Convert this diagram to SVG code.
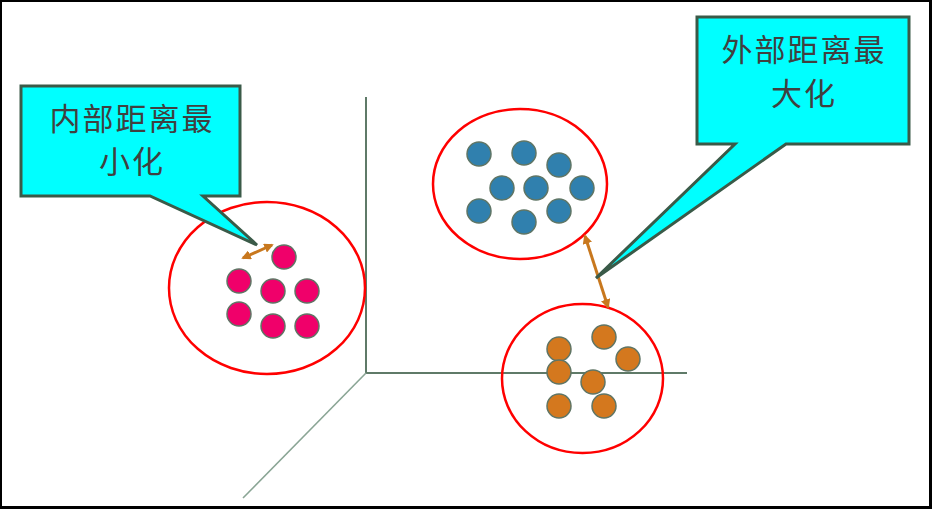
<svg xmlns="http://www.w3.org/2000/svg" width="932" height="509" viewBox="0 0 932 509">
<style>
.callout{fill:#00ffff;stroke:#3a5a48;stroke-width:3;stroke-linejoin:miter}
.lbl{font-family:"Noto Sans CJK SC","Noto Sans",sans-serif;font-size:31px;fill:#404040;text-anchor:middle;letter-spacing:2px}
.ring{fill:none;stroke:#ff0000;stroke-width:2.5}
.axis{stroke:#5f7a68;stroke-width:2;fill:none}
.pink{fill:#f0006a;stroke:#5f7565;stroke-width:1.5}
.blue{fill:#3080ae;stroke:#5f7565;stroke-width:1.5}
.orange{fill:#d4781e;stroke:#5f7565;stroke-width:1.5}
.arrow{stroke:#c8781e;stroke-width:3;fill:none;marker-start:url(#ah);marker-end:url(#ah)}
</style>
<defs>
<marker id="ah" viewBox="0 0 10 10" refX="8" refY="5" markerWidth="3.2" markerHeight="3.2" orient="auto-start-reverse" markerUnits="strokeWidth">
<path d="M0,0 L10,5 L0,10 Z" fill="#c8781e"/>
</marker>
</defs>
<rect x="0" y="0" width="932" height="509" fill="#ffffff"/>
<g id="axes">
<line class="axis" x1="366" y1="97" x2="366" y2="373"/>
<line class="axis" x1="365" y1="373" x2="687" y2="373"/>
<line x1="366" y1="373" x2="243" y2="498" stroke="#8aa595" stroke-width="1.6"/>
</g>
<g id="cluster-left">
<ellipse class="ring" cx="267" cy="288" rx="98" ry="86"/>
<circle class="pink" cx="284" cy="257" r="12"/>
<circle class="pink" cx="239" cy="281" r="12"/>
<circle class="pink" cx="273" cy="291" r="12"/>
<circle class="pink" cx="307" cy="291" r="12"/>
<circle class="pink" cx="239" cy="314" r="12"/>
<circle class="pink" cx="273" cy="326" r="12"/>
<circle class="pink" cx="307" cy="326" r="12"/>
</g>
<g id="cluster-top">
<ellipse class="ring" cx="520" cy="184" rx="87" ry="75"/>
<circle class="blue" cx="479" cy="154" r="12"/>
<circle class="blue" cx="524" cy="153" r="12"/>
<circle class="blue" cx="559" cy="165" r="12"/>
<circle class="blue" cx="502" cy="188" r="12"/>
<circle class="blue" cx="536" cy="188" r="12"/>
<circle class="blue" cx="582" cy="188" r="12"/>
<circle class="blue" cx="479" cy="211" r="12"/>
<circle class="blue" cx="524" cy="222" r="12"/>
<circle class="blue" cx="559" cy="211" r="12"/>
</g>
<g id="cluster-bottom">
<ellipse class="ring" cx="582.5" cy="378.5" rx="80.5" ry="74.5"/>
<circle class="orange" cx="559" cy="349" r="12"/>
<circle class="orange" cx="604" cy="337" r="12"/>
<circle class="orange" cx="628" cy="359" r="12"/>
<circle class="orange" cx="559" cy="372" r="12"/>
<circle class="orange" cx="593" cy="382" r="12"/>
<circle class="orange" cx="559" cy="406" r="12"/>
<circle class="orange" cx="604" cy="406" r="12"/>
</g>
<g id="connectors">
<line class="arrow" x1="243" y1="258" x2="272" y2="245"/>
<line class="arrow" x1="585" y1="236" x2="608" y2="307"/>
</g>
<g id="callout-left">
<path class="callout" d="M21,86 H240 V196 H203 L257,245 L150,196 H21 Z"/>
<text class="lbl" x="132" y="130">内部距离最</text>
<text class="lbl" x="132" y="173">小化</text>
</g>
<g id="callout-right">
<path class="callout" d="M697,17 H909 V144 H786 L596,278 L735,144 H697 Z"/>
<text class="lbl" x="804" y="61">外部距离最</text>
<text class="lbl" x="804" y="105">大化</text>
</g>
<g id="frame" fill="#000000">
<rect x="0" y="0" width="932" height="2"/>
<rect x="0" y="0" width="2" height="509"/>
<rect x="929" y="0" width="3" height="509"/>
<rect x="0" y="506" width="932" height="3"/>
</g>
</svg>
